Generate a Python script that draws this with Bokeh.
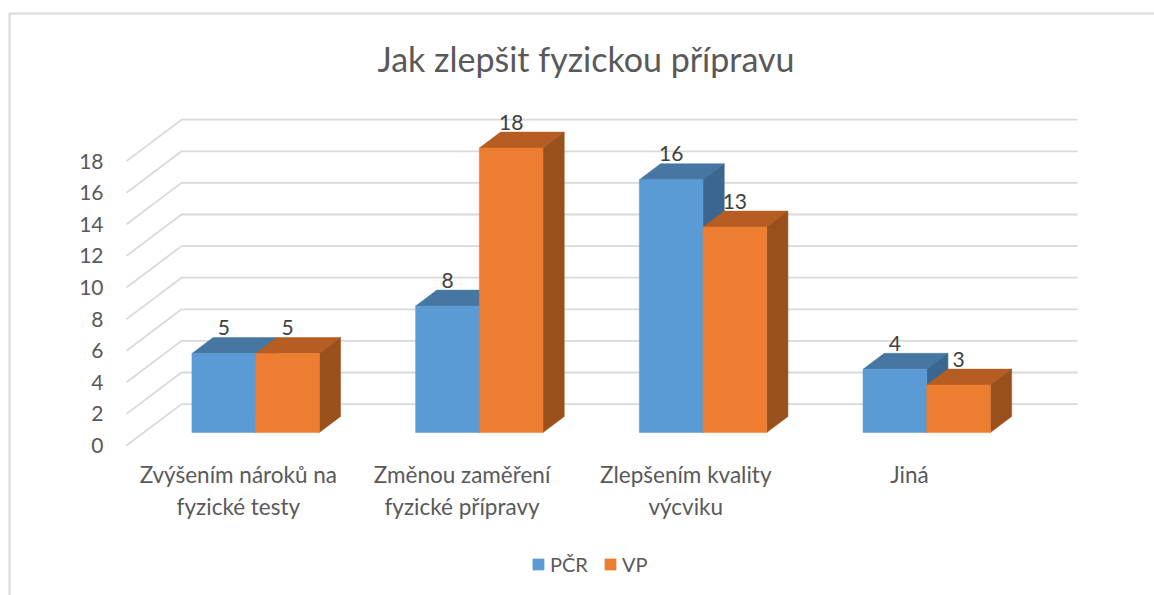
from bokeh.plotting import figure
from bokeh.models import (Range1d, LinearAxis, FixedTicker, Legend, LegendItem, Label, BoxAnnotation)
from bokeh.core.properties import value
from bokeh.embed import file_html
from bokeh.resources import INLINE

title = "Jak zlepšit fyzickou přípravu"
categories = ["Zvýšením nároků na\nfyzické testy", "Změnou zaměření\nfyzické přípravy",
              "Zlepšením kvality\nvýcviku", "Jiná"]
pcr = [5, 8, 16, 4]
vp = [5, 18, 13, 3]
y_ticks = [0, 2, 4, 6, 8, 10, 12, 14, 16, 18]

FONT = "Lato"
W, H = 1154, 595
X0, Y0 = 126, 445       # canvas px of the floor's front-left corner (category 0, value 0)
PX_X = 223.7
PX_Y = 15.8
DX = 55 / PX_X          # depth of the floor in x units
DY = 41.4 / PX_Y        # depth of the floor in y units
D0, D1 = 0.314, 0.70    # bar depth extent
BW = 63.7 / PX_X

p = figure(width=W, height=H, output_backend="svg", toolbar_location=None,
           x_range=Range1d(-X0 / PX_X, (W - X0) / PX_X), y_range=Range1d(-(H - Y0) / PX_Y, Y0 / PX_Y),
           x_axis_location=None, y_axis_location=None,
           min_border_left=0, min_border_right=0, min_border_top=0, min_border_bottom=0,
           outline_line_color=None, tools="")
p.grid.visible = False

ya = LinearAxis(ticker=FixedTicker(ticks=y_ticks), axis_line_color=None, major_tick_line_color=None,
                minor_tick_line_color=None, major_label_text_font=FONT, major_label_text_font_size="21px",
                major_label_text_color="#595959", major_label_standoff=17, fixed_location=0)
p.add_layout(ya, "left")
xa = LinearAxis(ticker=FixedTicker(ticks=[i + 0.5 for i in range(len(categories))]),
                major_label_overrides={i + 0.5: c for i, c in enumerate(categories)},
                axis_line_color=None, major_tick_line_color=None, minor_tick_line_color=None,
                major_label_text_font=FONT, major_label_text_font_size="22.5px",
                major_label_text_color="#595959", major_label_standoff=9, fixed_location=0)
p.add_layout(xa, "below")

xend = (1077 - X0) / PX_X
p.multi_line([[0, DX, xend] for _ in y_ticks], [[v, v + DY, v + DY] for v in y_ticks],
             line_color="#D9D9D9", line_width=1.8)

def faces(values, side):
    front_x, front_y, top_x, top_y, side_x, side_y = [], [], [], [], [], []
    for i, v in enumerate(values):
        c = i + 0.5 + D0 * DX + (-BW if side == 0 else 0)
        ox, oy = (D1 - D0) * DX, (D1 - D0) * DY
        b = D0 * DY
        front_x.append([c, c + BW, c + BW, c])
        front_y.append([b, b, b + v, b + v])
        top_x.append([c, c + BW, c + BW + ox, c + ox])
        top_y.append([b + v, b + v, b + v + oy, b + v + oy])
        side_x.append([c + BW, c + BW + ox, c + BW + ox, c + BW])
        side_y.append([b, b + oy, b + v + oy, b + v])
    return front_x, front_y, top_x, top_y, side_x, side_y

items = []
for k, (vals, name, cf, ct, cs) in enumerate([(pcr, "PČR", "#5B9BD5", "#4677A3", "#3A668F"),
                                              (vp, "VP", "#ED7D31", "#B55D23", "#99501D")]):
    fx, fy, tx, ty, sx, sy = faces(vals, k)
    p.patches(tx, ty, fill_color=ct, line_color=ct, line_width=0.5)
    p.patches(sx, sy, fill_color=cs, line_color=cs, line_width=0.5)
    r = p.patches(fx, fy, fill_color=cf, line_color=cf, line_width=0.5)
    items.append(LegendItem(label=name, renderers=[r]))
    lx = [f[0] + BW / 2 for f in fx]
    ly = [(D1 * DY) + v for v in vals]
    p.text(lx, ly, text=[str(v) for v in vals], text_font=value(FONT), text_font_size="21px",
           text_color="#404040", text_align="center", text_baseline="middle", y_offset=-10)

legend = Legend(items=items, orientation="horizontal", location=(531, 19), margin=0, padding=0,
                spacing=15, glyph_width=14, glyph_height=14, label_standoff=5, border_line_color=None,
                background_fill_alpha=0, label_text_font=FONT, label_text_font_size="20px",
                label_text_color="#595959")
p.add_layout(legend, "center")

p.add_layout(Label(text=title, x=377, y=58, x_units="canvas", y_units="canvas", text_font=FONT,
                   text_font_size="34px", text_color="#595959", text_baseline="middle", text_align="left"))

p.add_layout(BoxAnnotation(left=9, right=W + 10, top=13, bottom=H + 10, left_units="canvas", right_units="canvas",
                           top_units="canvas", bottom_units="canvas", line_color="#D9D9D9", line_alpha=1,
                           line_width=2, fill_alpha=0))

open("out.html", "w").write(file_html(p, INLINE))
